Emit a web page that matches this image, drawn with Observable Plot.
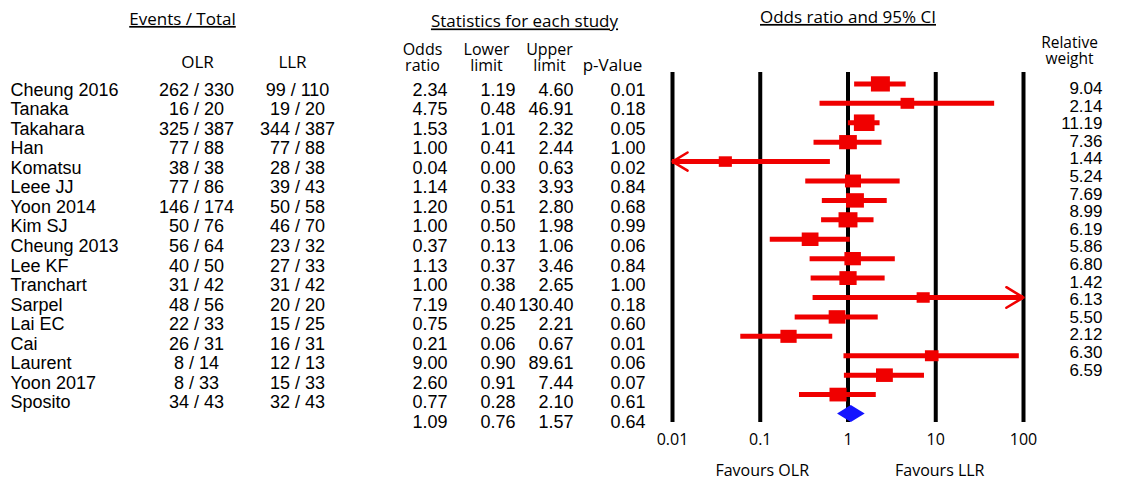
<!DOCTYPE html>
<html>
<head>
<meta charset="utf-8">
<script src="https://cdn.jsdelivr.net/npm/d3@7"></script>
<script src="https://cdn.jsdelivr.net/npm/@observablehq/plot@0.6"></script>
<style>
  html, body { margin: 0; padding: 0; background: #ffffff; }
  #chart { position: relative; width: 1132px; height: 482px; background: #ffffff; }
  #chart svg { position: absolute; left: 0; top: 0; }
</style>
</head>
<body>
<div id="chart"></div>
<script>
// ---------------- DATA ----------------
const studies = ["Cheung 2016","Tanaka","Takahara","Han","Komatsu","Leee JJ","Yoon 2014","Kim SJ","Cheung 2013","Lee KF","Tranchart","Sarpel","Lai EC","Cai","Laurent","Yoon 2017","Sposito"];
const olrEvents = [262,16,325,77,38,77,146,50,56,40,31,48,22,26,8,8,34];
const olrTotal  = [330,20,387,88,38,86,174,76,64,50,42,56,33,31,14,33,43];
const llrEvents = [99,19,344,77,28,39,50,46,23,27,31,20,15,16,12,15,32];
const llrTotal  = [110,20,387,88,38,43,58,70,32,33,42,20,25,31,13,33,43];
const oddsRatio  = [2.34,4.75,1.53,1.00,0.04,1.14,1.20,1.00,0.37,1.13,1.00,7.19,0.75,0.21,9.00,2.60,0.77];
const lowerLimit = [1.19,0.48,1.01,0.41,0.00,0.33,0.51,0.50,0.13,0.37,0.38,0.40,0.25,0.06,0.90,0.91,0.28];
const upperLimit = [4.60,46.91,2.32,2.44,0.63,3.93,2.80,1.98,1.06,3.46,2.65,130.40,2.21,0.67,89.61,7.44,2.10];
const pValue     = [0.01,0.18,0.05,1.00,0.02,0.84,0.68,0.99,0.06,0.84,1.00,0.18,0.60,0.01,0.06,0.07,0.61];
const relWeight  = [9.04,2.14,11.19,7.36,1.44,5.24,7.69,8.99,6.19,5.86,6.80,1.42,6.13,5.50,2.12,6.30,6.59];
const summaryOR = 1.09, summaryLower = 0.76, summaryUpper = 1.57, summaryP = 0.64;
const xTicks = [0.01, 0.1, 1, 10, 100];

// ---------------- LAYOUT ----------------
const W = 1132, H = 482;
const NUM_FONT = "'Liberation Sans', Arial, sans-serif";
const HEAD_FONT = "'Open Sans', sans-serif";
const col = {study: 10, olr: 196, llr: 297, or: 447, lower: 515, upper: 573, p: 645};
const RED = "#f00000", BLUE = "#1414ff";

const fmt = v => v.toFixed(2);

// Rows for the statistics table (studies + summary)
const rows = studies.map((s, i) => ({
  i, study: s,
  olr: `${olrEvents[i]} / ${olrTotal[i]}`,
  llr: `${llrEvents[i]} / ${llrTotal[i]}`,
  or: fmt(oddsRatio[i]), lower: fmt(lowerLimit[i]), upper: fmt(upperLimit[i]), p: fmt(pValue[i])
}));
const statRows = rows.concat([{i: studies.length, study: "", olr: "", llr: "",
  or: fmt(summaryOR), lower: fmt(summaryLower), upper: fmt(summaryUpper), p: fmt(summaryP)}]);

const forest = studies.map((s, i) => ({i, study: s, or: oddsRatio[i], lower: lowerLimit[i], upper: upperLimit[i], weight: relWeight[i]}));
const xmin = xTicks[0], xmax = xTicks[xTicks.length - 1];
const sumIdx = studies.length;
const diamond = [
  {y: sumIdx - 0.44, x1: summaryOR, x2: summaryOR},
  {y: sumIdx, x1: summaryLower, x2: summaryUpper},
  {y: sumIdx + 0.44, x1: summaryOR, x2: summaryOR}
];

const headText = (label, x, dy, extra = {}) =>
  Plot.text([label], {text: d => d, x, frameAnchor: "top", lineAnchor: "middle", dy, fontFamily: HEAD_FONT, fontSize: 17, fill: "black", ...extra});

// ---------------- TABLE PLOT ----------------
const tablePlot = Plot.plot({
  width: W, height: H, margin: 0,
  x: {type: "linear", domain: [0, W], range: [0, W], axis: null},
  y: {type: "linear", domain: [0, sumIdx], range: [89.5, 421.5], axis: null},
  style: {fontFamily: NUM_FONT, fontSize: "18px", background: "transparent", overflow: "visible", color: "black"},
  marks: [
    headText("Events / Total", 182, 19),
    headText("OLR", 197, 62),
    headText("LLR", 292, 62),
    headText("Statistics for each study", 524, 21.5),
    headText("Odds\nratio", 422, 57, {fontSize: 16, lineHeight: 1}),
    headText("Lower\nlimit", 486, 57, {fontSize: 16, lineHeight: 1}),
    headText("Upper\nlimit", 549, 57, {fontSize: 16, lineHeight: 1}),
    headText("p-Value", 612, 65),
    Plot.text(statRows, {x: col.study, y: "i", text: "study", textAnchor: "start"}),
    Plot.text(statRows, {x: col.olr, y: "i", text: "olr", textAnchor: "middle"}),
    Plot.text(statRows, {x: col.llr, y: "i", text: "llr", textAnchor: "middle"}),
    Plot.text(statRows, {x: col.or, y: "i", text: "or", textAnchor: "end"}),
    Plot.text(statRows, {x: col.lower, y: "i", text: "lower", textAnchor: "end"}),
    Plot.text(statRows, {x: col.upper, y: "i", text: "upper", textAnchor: "end"}),
    Plot.text(statRows, {x: col.p, y: "i", text: "p", textAnchor: "end"})
  ]
});

// ---------------- FOREST PLOT ----------------
const rectSymbol = {
  draw(context, size) {
    const s = Math.sqrt(size);
    const w = s * 0.56, h = s * 0.45;
    context.moveTo(-w, -h); context.lineTo(w, -h); context.lineTo(w, h); context.lineTo(-w, h); context.closePath();
  }
};

const forestPlot = Plot.plot({
  width: W, height: H, marginTop: 72, marginBottom: 60, marginLeft: 0, marginRight: 0,
  x: {type: "log", domain: [xmin, xmax], range: [672, 1023]},
  y: {type: "linear", domain: [0, sumIdx], range: [83.4, 413.5], axis: null},
  r: {type: "linear", domain: [d3.min(relWeight), d3.max(relWeight)], range: [6.6, 10.4]},
  style: {fontFamily: HEAD_FONT, fontSize: "16px", background: "transparent", overflow: "visible", color: "black"},
  marks: [
    Plot.ruleX(xTicks, {stroke: "black", strokeWidth: 4}),
    Plot.axisX({ticks: xTicks, tickSize: 0, tickPadding: 11, tickFormat: d => String(d), label: null, fontSize: 16, fontFamily: HEAD_FONT}),
    Plot.ruleY(forest, {y: "i", x1: d => Math.max(d.lower, xmin), x2: d => Math.min(d.upper, xmax), stroke: RED, strokeWidth: 5}),
    Plot.arrow(forest.filter(d => d.lower < xmin), {x1: "or", x2: () => xmin, y1: "i", y2: "i", stroke: RED, strokeWidth: 2.5, headLength: 12, headAngle: 62}),
    Plot.arrow(forest.filter(d => d.upper > xmax), {x1: "or", x2: () => xmax, y1: "i", y2: "i", stroke: RED, strokeWidth: 2.5, headLength: 12, headAngle: 62}),
    Plot.dot(forest, {x: "or", y: "i", r: "weight", symbol: rectSymbol, fill: RED, stroke: "none"}),
    Plot.areaX(diamond, {y: "y", x1: "x1", x2: "x2", fill: BLUE}),
    Plot.text(["Odds ratio and 95% CI"], {text: d => d, x: 1, frameAnchor: "top", lineAnchor: "middle", dy: -55, fontSize: 17, fontFamily: HEAD_FONT}),
    Plot.text(["Favours OLR"], {text: d => d, x: 0.1, dx: 2, frameAnchor: "bottom", lineAnchor: "middle", dy: 48, fontSize: 16, fontFamily: HEAD_FONT}),
    Plot.text(["Favours LLR"], {text: d => d, x: 10, dx: 4, frameAnchor: "bottom", lineAnchor: "middle", dy: 48, fontSize: 16, fontFamily: HEAD_FONT})
  ]
});

// ---------------- WEIGHT COLUMN ----------------
const weightPlot = Plot.plot({
  width: W, height: H, margin: 0,
  x: {type: "linear", domain: [0, W], range: [0, W], axis: null},
  y: {type: "linear", domain: [0, studies.length - 1], range: [88, 369.6], axis: null},
  style: {fontFamily: NUM_FONT, fontSize: "17px", background: "transparent", overflow: "visible", color: "black"},
  marks: [
    headText("Relative\nweight", 1069, 50.5, {fontSize: 15.5, lineHeight: 1}),
    Plot.text(relWeight, {x: 1102, y: (d, i) => i, text: d => fmt(d), textAnchor: "end"})
  ]
});

const chart = document.getElementById("chart");
chart.append(tablePlot, forestPlot, weightPlot);

// underline section headings
const underlined = new Set(["Events / Total", "Statistics for each study", "Odds ratio and 95% CI"]);
d3.select(chart).selectAll("text")
  .filter(function() { return underlined.has(this.textContent); })
  .style("text-decoration", "underline");
</script>
</body>
</html>
